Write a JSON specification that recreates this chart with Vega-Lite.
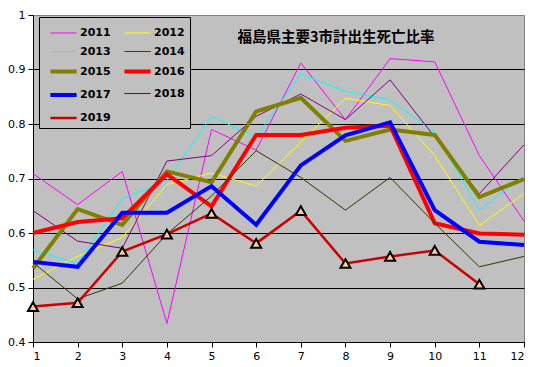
{
  "$schema": "https://vega.github.io/schema/vega-lite/v6.json",
  "width": 491,
  "height": 327,
  "autosize": "none",
  "padding": {"left": 33, "top": 15, "right": 10, "bottom": 25},
  "background": "white",
  "title": {"text": "福島県主要3市計出生死亡比率", "anchor": "start", "dx": 230, "dy": 40, "font": "Noto Sans CJK JP", "fontSize": 14.5, "fontWeight": "bold", "color": "black"},
  "config": {
    "view": {"fill": "#C0C0C0", "stroke": "#808080", "strokeWidth": 1},
    "axis": {"labelFont": "DejaVu Sans", "labelFontSize": 11, "labelColor": "black", "domainColor": "black", "tickColor": "black", "title": null}
  },
  "data": {"values": [
    {"year":"2011","m":1,"v":0.709},{"year":"2011","m":2,"v":0.652},{"year":"2011","m":3,"v":0.713},{"year":"2011","m":4,"v":0.434},{"year":"2011","m":5,"v":0.79},{"year":"2011","m":6,"v":0.752},{"year":"2011","m":7,"v":0.912},{"year":"2011","m":8,"v":0.808},{"year":"2011","m":9,"v":0.92},{"year":"2011","m":10,"v":0.914},{"year":"2011","m":11,"v":0.742},{"year":"2011","m":12,"v":0.622},
    {"year":"2012","m":1,"v":0.515},{"year":"2012","m":2,"v":0.557},{"year":"2012","m":3,"v":0.592},{"year":"2012","m":4,"v":0.689},{"year":"2012","m":5,"v":0.71},{"year":"2012","m":6,"v":0.686},{"year":"2012","m":7,"v":0.767},{"year":"2012","m":8,"v":0.847},{"year":"2012","m":9,"v":0.834},{"year":"2012","m":10,"v":0.742},{"year":"2012","m":11,"v":0.614},{"year":"2012","m":12,"v":0.672},
    {"year":"2013","m":1,"v":0.569},{"year":"2013","m":2,"v":0.544},{"year":"2013","m":3,"v":0.663},{"year":"2013","m":4,"v":0.696},{"year":"2013","m":5,"v":0.814},{"year":"2013","m":6,"v":0.776},{"year":"2013","m":7,"v":0.892},{"year":"2013","m":8,"v":0.86},{"year":"2013","m":9,"v":0.844},{"year":"2013","m":10,"v":0.785},{"year":"2013","m":11,"v":0.642},{"year":"2013","m":12,"v":0.704},
    {"year":"2014","m":1,"v":0.641},{"year":"2014","m":2,"v":0.585},{"year":"2014","m":3,"v":0.572},{"year":"2014","m":4,"v":0.732},{"year":"2014","m":5,"v":0.742},{"year":"2014","m":6,"v":0.814},{"year":"2014","m":7,"v":0.855},{"year":"2014","m":8,"v":0.808},{"year":"2014","m":9,"v":0.881},{"year":"2014","m":10,"v":0.776},{"year":"2014","m":11,"v":0.672},{"year":"2014","m":12,"v":0.762},
    {"year":"2015","m":1,"v":0.535},{"year":"2015","m":2,"v":0.644},{"year":"2015","m":3,"v":0.615},{"year":"2015","m":4,"v":0.713},{"year":"2015","m":5,"v":0.693},{"year":"2015","m":6,"v":0.823},{"year":"2015","m":7,"v":0.848},{"year":"2015","m":8,"v":0.769},{"year":"2015","m":9,"v":0.79},{"year":"2015","m":10,"v":0.78},{"year":"2015","m":11,"v":0.666},{"year":"2015","m":12,"v":0.699},
    {"year":"2016","m":1,"v":0.6},{"year":"2016","m":2,"v":0.62},{"year":"2016","m":3,"v":0.627},{"year":"2016","m":4,"v":0.708},{"year":"2016","m":5,"v":0.649},{"year":"2016","m":6,"v":0.78},{"year":"2016","m":7,"v":0.78},{"year":"2016","m":8,"v":0.793},{"year":"2016","m":9,"v":0.797},{"year":"2016","m":10,"v":0.618},{"year":"2016","m":11,"v":0.599},{"year":"2016","m":12,"v":0.597},
    {"year":"2017","m":1,"v":0.547},{"year":"2017","m":2,"v":0.538},{"year":"2017","m":3,"v":0.637},{"year":"2017","m":4,"v":0.637},{"year":"2017","m":5,"v":0.686},{"year":"2017","m":6,"v":0.615},{"year":"2017","m":7,"v":0.724},{"year":"2017","m":8,"v":0.779},{"year":"2017","m":9,"v":0.803},{"year":"2017","m":10,"v":0.642},{"year":"2017","m":11,"v":0.584},{"year":"2017","m":12,"v":0.578},
    {"year":"2018","m":1,"v":0.546},{"year":"2018","m":2,"v":0.479},{"year":"2018","m":3,"v":0.508},{"year":"2018","m":4,"v":0.598},{"year":"2018","m":5,"v":0.668},{"year":"2018","m":6,"v":0.751},{"year":"2018","m":7,"v":0.702},{"year":"2018","m":8,"v":0.642},{"year":"2018","m":9,"v":0.702},{"year":"2018","m":10,"v":0.618},{"year":"2018","m":11,"v":0.538},{"year":"2018","m":12,"v":0.557},
    {"year":"2019","m":1,"v":0.465},{"year":"2019","m":2,"v":0.472},{"year":"2019","m":3,"v":0.566},{"year":"2019","m":4,"v":0.598},{"year":"2019","m":5,"v":0.636},{"year":"2019","m":6,"v":0.581},{"year":"2019","m":7,"v":0.641},{"year":"2019","m":8,"v":0.544},{"year":"2019","m":9,"v":0.557},{"year":"2019","m":10,"v":0.568},{"year":"2019","m":11,"v":0.506}
  ]},
  "encoding": {
    "x": {"field": "m", "type": "quantitative", "scale": {"domain": [1, 12], "nice": false}, "axis": {"values": [1,2,3,4,5,6,7,8,9,10,11,12], "grid": false, "tickSize": 5, "labelPadding": 3, "labelAngle": 0}},
    "y": {"field": "v", "type": "quantitative", "scale": {"domain": [0.4, 1], "nice": false, "zero": false}, "axis": {"values": [0.4,0.5,0.6,0.7,0.8,0.9,1], "format": "~g", "grid": true, "gridColor": {"condition": {"test": "datum.value >= 1", "value": "#808080"}, "value": "black"}, "gridOpacity": 1, "tickSize": 5, "labelPadding": 3}}
  },
  "layer": [
    {
      "mark": {"type": "line"},
      "encoding": {
        "color": {"field": "year", "type": "ordinal", "scale": {"domain": ["2011","2012","2013","2014","2015","2016","2017","2018","2019"], "range": ["#FF00FF","#FFFF00","#00FFFF","#800080","#808000","#FF0000","#0000FF","#333300","#CC0000"]},
          "legend": {"orient": "none", "legendX": 6, "legendY": 2, "columns": 2, "direction": "horizontal", "title": null, "symbolType": "M-1.25,0H1.25", "symbolSize": 440, "labelFont": "DejaVu Sans", "labelFontSize": 11, "labelFontWeight": "bold", "labelColor": "black", "fillColor": "#C0C0C0", "strokeColor": "black", "padding": 5, "rowPadding": 2.5, "columnPadding": 5, "labelOffset": 4, "symbolOffset": 7, "symbolOpacity": 1}},
        "strokeWidth": {"field": "year", "type": "ordinal", "scale": {"type": "ordinal", "domain": ["2011","2012","2013","2014","2015","2016","2017","2018","2019"], "range": [1,1,1,1,4,4,4,1,2.5]}},
        "order": {"field": "m", "type": "quantitative"}
      }
    },
    {
      "transform": [{"filter": "datum.year == '2019'"}],
      "mark": {"type": "point", "shape": "triangle-up", "filled": true, "fill": "#FFCC99", "stroke": "black", "strokeWidth": 2, "size": 100, "opacity": 1}
    }
  ]
}
